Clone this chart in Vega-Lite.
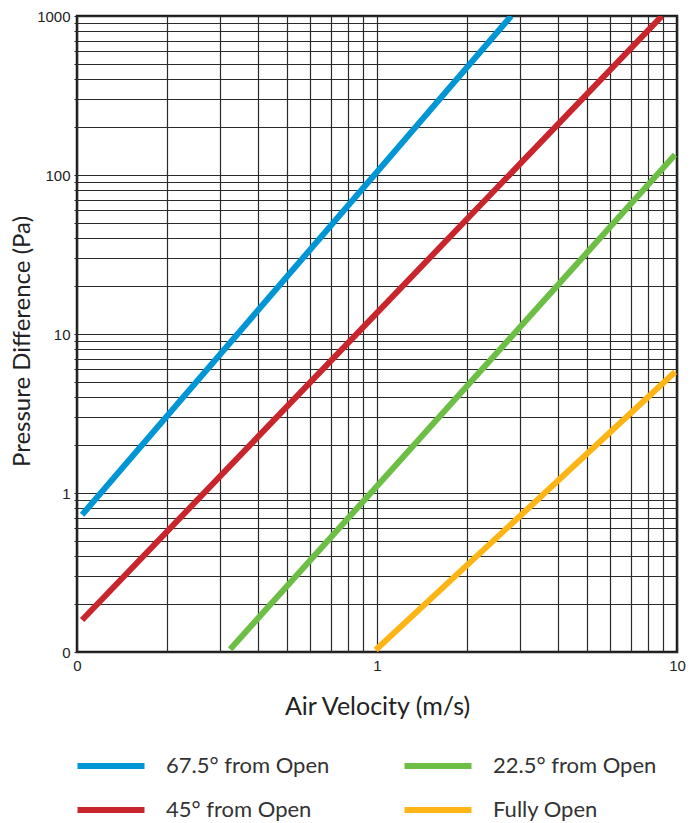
{
  "$schema": "https://vega.github.io/schema/vega-lite/v6.json",
  "autosize": {"type": "none"},
  "width": 600,
  "height": 636,
  "padding": {"left": 77, "top": 16, "right": 22, "bottom": 171},
  "background": "white",
  "config": {
    "view": {"stroke": "#1a1a1a", "strokeWidth": 2.5},
    "font": "Lato"
  },
  "data": {
    "values": [
      {"series": "67.5° from Open", "velocity": 0.104, "pressure": 0.73},
      {"series": "67.5° from Open", "velocity": 2.8, "pressure": 1000},
      {"series": "45° from Open", "velocity": 0.104, "pressure": 0.159},
      {"series": "45° from Open", "velocity": 8.91, "pressure": 1000},
      {"series": "22.5° from Open", "velocity": 0.324, "pressure": 0.104},
      {"series": "22.5° from Open", "velocity": 9.85, "pressure": 134},
      {"series": "Fully Open", "velocity": 0.99, "pressure": 0.103},
      {"series": "Fully Open", "velocity": 9.85, "pressure": 5.77}
    ]
  },
  "mark": {"type": "line", "strokeWidth": 6, "strokeCap": "butt", "clip": true},
  "encoding": {
    "x": {
      "field": "velocity",
      "type": "quantitative",
      "scale": {"type": "log", "domain": [0.1, 10], "nice": false},
      "axis": {
        "title": "Air Velocity (m/s)",
        "values": [0.1, 0.2, 0.3, 0.4, 0.5, 0.6, 0.7, 0.8, 0.9, 1, 2, 3, 4, 5, 6, 7, 8, 9, 10],
        "labelExpr": "abs(log(datum.value)/LN10 - round(log(datum.value)/LN10)) < 0.000001 ? (datum.value < 1 ? '0' : format(datum.value, 'd')) : ''",
        "labelOverlap": false,
        "labelFlush": false,
        "labelFont": "Liberation Sans",
        "labelFontSize": 15,
        "labelColor": "#222",
        "labelPadding": 6,
        "ticks": false,
        "domain": false,
        "grid": true,
        "gridColor": "#2a2a2a",
        "gridWidth": 1.2,
        "gridOpacity": 1,
        "titleFont": "Lato",
        "titleFontSize": 25,
        "titleFontWeight": "normal",
        "titleColor": "#222",
        "titleBaseline": "middle",
        "titleY": 54
      }
    },
    "y": {
      "field": "pressure",
      "type": "quantitative",
      "scale": {"type": "log", "domain": [0.1, 1000], "nice": false},
      "axis": {
        "title": "Pressure Difference (Pa)",
        "values": [0.1, 0.2, 0.3, 0.4, 0.5, 0.6, 0.7, 0.8, 0.9, 1, 2, 3, 4, 5, 6, 7, 8, 9, 10, 20, 30, 40, 50, 60, 70, 80, 90, 100, 200, 300, 400, 500, 600, 700, 800, 900, 1000],
        "labelExpr": "abs(log(datum.value)/LN10 - round(log(datum.value)/LN10)) < 0.000001 ? (datum.value < 1 ? '0' : format(datum.value, 'd')) : ''",
        "labelOverlap": false,
        "labelFlush": false,
        "labelFont": "Liberation Sans",
        "labelFontSize": 15,
        "labelColor": "#222",
        "labelPadding": 4,
        "ticks": true,
        "tickSize": 3,
        "tickColor": "#2a2a2a",
        "domain": false,
        "grid": true,
        "gridColor": "#2a2a2a",
        "gridWidth": 1.2,
        "gridOpacity": 1,
        "titleFont": "Lato",
        "titleFontSize": 24,
        "titleFontWeight": "normal",
        "titleColor": "#222",
        "titleBaseline": "middle",
        "titleX": -55,
        "titleY": 325
      }
    },
    "color": {
      "field": "series",
      "type": "nominal",
      "scale": {
        "domain": ["67.5° from Open", "45° from Open", "22.5° from Open", "Fully Open"],
        "range": ["#0096D6", "#C9252C", "#6DBE45", "#FDB515"]
      },
      "legend": {
        "title": null,
        "orient": "none",
        "legendX": 14,
        "legendY": 730,
        "columns": 2,
        "symbolType": "M-2,0L2,0",
        "symbolSize": 1122,
        "symbolStrokeWidth": 6,
        "labelFont": "Lato",
        "labelFontSize": 22,
        "labelColor": "#333",
        "labelOffset": 35,
        "columnPadding": 62,
        "rowPadding": 12,
        "labelLimit": 400
      }
    }
  }
}
